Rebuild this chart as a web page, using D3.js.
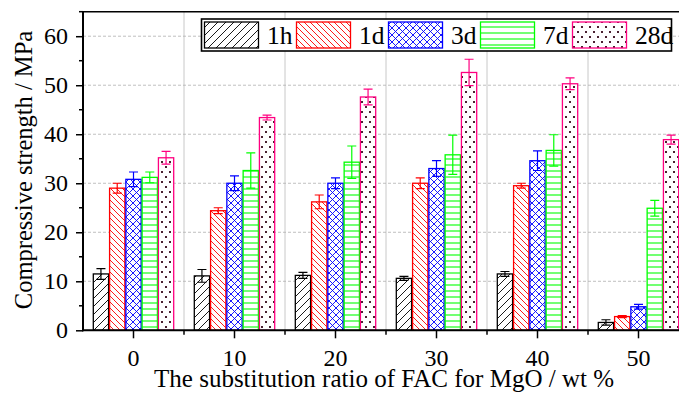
<!DOCTYPE html>
<html><head><meta charset="utf-8">
<script src="https://cdn.jsdelivr.net/npm/d3@7"></script>
<style>body{margin:0;background:#fff}svg{display:block}svg text{font-family:"Liberation Serif","Times New Roman",serif !important}</style>
</head><body><svg id="c" width="679" height="398"></svg>
<script>
const categories = ["0","10","20","30","40","50"];
const seriesNames = ["1h","1d","3d","7d","28d"];
const v1h  = [11.5, 11.1, 11.2, 10.6, 11.5, 1.6];
const v1d  = [29.0, 24.4, 26.2, 30.0, 29.5, 2.8];
const v3d  = [30.8, 30.0, 30.0, 33.0, 34.6, 4.8];
const v7d  = [31.2, 32.6, 34.3, 35.8, 36.7, 24.9];
const v28d = [35.2, 43.4, 47.6, 52.6, 50.3, 38.9];
const e1h  = [1.1, 1.3, 0.6, 0.4, 0.5, 0.55];
const e1d  = [1.0, 0.6, 1.4, 1.1, 0.5, 0.2];
const e3d  = [1.5, 1.5, 1.1, 1.6, 2.0, 0.5];
const e7d  = [1.1, 3.6, 3.3, 4.0, 3.2, 1.6];
const e28d = [1.3, 0.5, 1.6, 2.7, 1.2, 0.9];
const yTicks = [0,10,20,30,40,50,60];
const xTitle = "The substitution ratio of FAC for MgO / wt %";
const yTitle = "Compressive strength / MPa";

const values = [v1h, v1d, v3d, v7d, v28d];
const errors = [e1h, e1d, e3d, e7d, e28d];
const colors = ["#000000", "#ff0000", "#0000ff", "#00ff00", "#ff0080"];

const svg = d3.select("#c");
const L = 83, R = 689, T = 11.7, B = 330.3;
const x = d3.scaleBand().domain(categories).range([L, R]).padding(0);
const inner = d3.scaleBand().domain(seriesNames).range([-40.7, 40.7]).padding(0);
const y = d3.scaleLinear().domain([0, 65]).range([B, T]);

// patterns
const defs = svg.append("defs");
function pat(id, w, h) {
  return defs.append("pattern").attr("id", id).attr("patternUnits", "userSpaceOnUse")
    .attr("width", w).attr("height", h);
}
let p = pat("p0", 8, 8);
p.append("rect").attr("width", 8).attr("height", 8).attr("fill", "#fff");
p.append("path").attr("d", "M-2,2 L2,-2 M0,8 L8,0 M6,10 L10,6").attr("stroke", "#000").attr("stroke-width", 0.9);
p = pat("p1", 6, 6);
p.append("rect").attr("width", 6).attr("height", 6).attr("fill", "#fff");
p.append("path").attr("d", "M-2,4 L2,8 M0,0 L6,6 M4,-2 L8,2").attr("stroke", "#ff0000").attr("stroke-width", 0.9);
p = pat("p2", 7, 7);
p.append("rect").attr("width", 7).attr("height", 7).attr("fill", "#fff");
p.append("path").attr("d", "M0,0 L7,7 M-1,6 L1,8 M6,-1 L8,1 M0,7 L7,0 M-1,1 L1,-1 M6,8 L8,6").attr("stroke", "#0000ff").attr("stroke-width", 0.9);
p = pat("p3", 6, 6);
p.append("rect").attr("width", 6).attr("height", 6).attr("fill", "#fff");
p.append("path").attr("d", "M0,3 L6,3").attr("stroke", "#00ff00").attr("stroke-width", 1.1);
p = pat("p4", 8, 10);
p.append("rect").attr("width", 8).attr("height", 10).attr("fill", "#fff");
p.append("rect").attr("x", 1).attr("y", 1).attr("width", 2).attr("height", 2).attr("fill", "#4a2030");
p.append("rect").attr("x", 5).attr("y", 6).attr("width", 2).attr("height", 2).attr("fill", "#4a2030");

// grid
const grid = svg.append("g");
const bounds = categories.slice(1).map(c => x(c));
grid.selectAll("line.vg").data(bounds).join("line")
  .attr("x1", d => d).attr("x2", d => d).attr("y1", T).attr("y2", B)
  .attr("stroke", "#c8c8c8").attr("stroke-width", 1);
grid.selectAll("line.hg").data(yTicks.slice(1)).join("line")
  .attr("x1", L).attr("x2", R).attr("y1", d => y(d)).attr("y2", d => y(d))
  .attr("stroke", "#b0b0b0").attr("stroke-width", 0.8).attr("stroke-dasharray", "3,2");

// bars
seriesNames.forEach((s, si) => {
  const g = svg.append("g");
  categories.forEach((c, ci) => {
    const x0 = x(c) + x.bandwidth() / 2 + inner(s);
    const w = inner.bandwidth();
    g.append("rect").attr("x", x0 + 0.5).attr("y", y(values[si][ci]))
      .attr("width", w - 1).attr("height", y(0) - y(values[si][ci]))
      .attr("fill", `url(#p${si})`).attr("stroke", colors[si]).attr("stroke-width", 1.3);
    const cx = x0 + w / 2, hi = y(values[si][ci] + errors[si][ci]), lo = y(values[si][ci] - errors[si][ci]);
    g.append("path").attr("d", `M${cx},${hi}V${lo}M${cx-4.5},${hi}H${cx+4.5}M${cx-4.5},${lo}H${cx+4.5}`)
      .attr("stroke", colors[si]).attr("stroke-width", 1.2).attr("fill", "none");
  });
});

// axes
const yAxis = d3.axisLeft(y).tickValues(yTicks).tickSize(7).tickPadding(8);
const ya = svg.append("g").attr("transform", `translate(${L},0)`).call(yAxis);
ya.selectAll(".tick text").attr("font-size", 24).attr("fill", "#000");
ya.selectAll(".tick line").attr("stroke-width", 1.5);
ya.select(".domain").remove();
const yMinor = yTicks.map(d => d + 5);
svg.append("g").selectAll("line").data(yMinor).join("line")
  .attr("x1", L - 4).attr("x2", L).attr("y1", d => y(d)).attr("y2", d => y(d)).attr("stroke", "#000").attr("stroke-width", 1.5);

const xAxis = d3.axisBottom(x).tickSize(8).tickPadding(10.5);
const xa = svg.append("g").attr("transform", `translate(0,${B})`).call(xAxis);
xa.selectAll(".tick text").attr("font-size", 24).attr("fill", "#000");
xa.selectAll(".tick line").attr("stroke-width", 1.5);
xa.select(".domain").remove();
svg.append("g").selectAll("line").data(bounds).join("line")
  .attr("x1", d => d).attr("x2", d => d).attr("y1", B).attr("y2", B + 4.5).attr("stroke", "#000").attr("stroke-width", 1.5);

// frame
svg.append("line").attr("x1", L).attr("x2", L).attr("y1", T).attr("y2", B + 1).attr("stroke", "#000").attr("stroke-width", 2);
svg.append("line").attr("x1", L - 1).attr("x2", R).attr("y1", B).attr("y2", B).attr("stroke", "#000").attr("stroke-width", 2);
svg.append("line").attr("x1", L - 1).attr("x2", R).attr("y1", T).attr("y2", T).attr("stroke", "#000").attr("stroke-width", 1.5);

// titles
svg.append("text").attr("x", 384).attr("y", 387).attr("text-anchor", "middle")
  .attr("font-size", 25).text(xTitle);
svg.append("text").attr("transform", `translate(32,170) rotate(-90)`).attr("text-anchor", "middle")
  .attr("font-size", 24.5).text(yTitle);

// legend
const lg = svg.append("g");
lg.append("rect").attr("x", 201.5).attr("y", 19).attr("width", 470).attr("height", 32)
  .attr("fill", "#fff").attr("stroke", "#000").attr("stroke-width", 1.6);
seriesNames.forEach((s, si) => {
  const lx = 204.5 + si * 92;
  lg.append("rect").attr("x", lx).attr("y", 22).attr("width", 54).attr("height", 26)
    .attr("fill", `url(#p${si})`).attr("stroke", colors[si]).attr("stroke-width", 1.3);
  lg.append("text").attr("x", lx + 62.5).attr("y", 44).attr("font-size", 25.5).text(s);
});
</script></body></html>
